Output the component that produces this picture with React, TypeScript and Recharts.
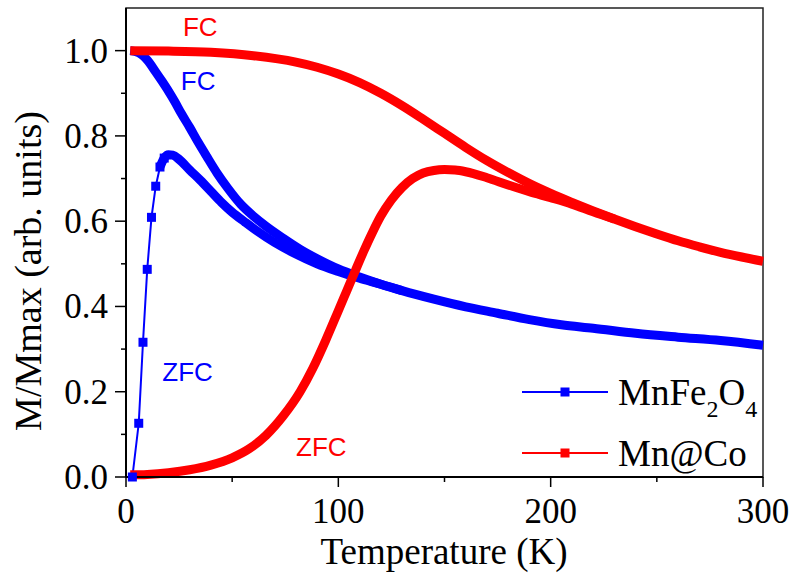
import React from 'react';
import { LineChart, Line, XAxis, YAxis, ReferenceDot, ReferenceArea } from 'recharts';

const BLUE = '#0000ff';
const RED = '#ff0000';
const SERIF = '"Liberation Serif", "Times New Roman", serif';
const SANS = '"Liberation Sans", Arial, sans-serif';

/* ─── data: [temperature (K), M/Mmax] ─────────────────────────────────────── */
const mnFeFc: [number, number][] = [
    [2, 1.0], [6, 0.995], [10, 0.978], [14, 0.95], [17, 0.928], [20, 0.905], [23, 0.88],
    [26, 0.853], [30, 0.82], [34, 0.785], [38, 0.752], [43, 0.712], [48, 0.677], [54, 0.64],
    [60, 0.612], [66, 0.588], [74, 0.56], [82, 0.534], [90, 0.512], [100, 0.488], [110, 0.469],
    [120, 0.452], [130, 0.437], [145, 0.417], [160, 0.399], [175, 0.384], [190, 0.369],
    [205, 0.357], [220, 0.349], [240, 0.337], [260, 0.328], [280, 0.32], [300, 0.309],
];

const mnFeZfc: [number, number][] = [
    [3, 0.0], [6, 0.126], [8, 0.316], [10, 0.487], [12, 0.609], [14, 0.682], [16, 0.727],
    [18, 0.748], [20, 0.756], [22, 0.755], [25, 0.745], [30, 0.72], [35, 0.696], [40, 0.67],
    [45, 0.644], [50, 0.621], [56, 0.598], [62, 0.576], [70, 0.55], [80, 0.523], [90, 0.5],
    [100, 0.482], [110, 0.466], [120, 0.452], [130, 0.437],
];

const mnCoFc: [number, number][] = [
    [2, 1.0], [20, 0.999], [40, 0.996], [60, 0.988], [80, 0.973], [90, 0.961], [100, 0.945],
    [110, 0.925], [120, 0.9], [130, 0.871], [140, 0.839], [150, 0.806], [160, 0.773],
    [170, 0.742], [180, 0.714], [190, 0.688], [200, 0.665], [210, 0.644], [220, 0.624],
    [230, 0.605], [240, 0.587], [250, 0.57], [260, 0.554], [270, 0.54], [280, 0.527],
    [290, 0.516], [300, 0.506],
];

const mnCoZfc: [number, number][] = [
    [2, 0.005], [10, 0.006], [20, 0.01], [30, 0.017], [40, 0.028], [50, 0.045], [58, 0.066],
    [66, 0.098], [74, 0.143], [82, 0.2], [88, 0.255], [94, 0.32], [100, 0.39], [104, 0.437],
    [108, 0.484], [112, 0.53], [116, 0.573], [120, 0.612], [125, 0.65], [130, 0.679],
    [135, 0.7], [140, 0.713], [145, 0.719], [150, 0.721], [155, 0.72], [160, 0.716],
    [170, 0.702], [180, 0.685], [190, 0.669], [200, 0.655], [210, 0.64], [220, 0.622],
    [230, 0.605],
];

const X_TICKS = [0, 50, 100, 150, 200, 250, 300];
const X_LABELS = [0, 100, 200, 300];
const Y_TICKS = [0, 0.1, 0.2, 0.3, 0.4, 0.5, 0.6, 0.7, 0.8, 0.9, 1.0];
const Y_LABELS = [0, 0.2, 0.4, 0.6, 0.8, 1.0];

const SERIES_NAMES = ['MnFe2O4', 'Mn@Co'];

const toRows = (pts: [number, number][]) => pts.map(([t, m]) => ({ t, m }));

const isMajor = (list: number[], v: number) => list.some((l) => Math.abs(l - v) < 1e-6);

/* ─── custom ticks (outward, minor ticks unlabeled) ───────────────────────── */
function XTick(props: any) {
    const { x, y, payload } = props;
    const major = isMajor(X_LABELS, payload.value);
    return (
        <g>
            <line x1={x} y1={y} x2={x} y2={y + (major ? 10 : 5)} stroke="#000" strokeWidth={1.5} />
            {major && (
                <text x={x} y={y + 46} textAnchor="middle" fontSize={35} fontFamily={SERIF} fill="#000">
                    {payload.value}
                </text>
            )}
        </g>
    );
}

function YTick(props: any) {
    const { x, y, payload } = props;
    const major = isMajor(Y_LABELS, payload.value);
    return (
        <g>
            <line x1={x} y1={y} x2={x - (major ? 11 : 5)} y2={y} stroke="#000" strokeWidth={1.5} />
            {major && (
                <text x={x - 18} y={y + 12} textAnchor="end" fontSize={35} fontFamily={SERIF} fill="#000">
                    {payload.value.toFixed(1)}
                </text>
            )}
        </g>
    );
}

const squareDot = (color: string) => (props: any) => {
    const { cx, cy, index } = props;
    return <rect key={`sq-${index}`} x={cx - 4.5} y={cy - 4.5} width={9} height={9} fill={color} />;
};

function LegendOverlay() {
    const rows = [
        { name: SERIES_NAMES[0], color: BLUE, y: 392 },
        { name: SERIES_NAMES[1], color: RED, y: 453 },
    ];
    return (
        <svg width={791} height={578} style={{ position: 'absolute', left: 0, top: 0, pointerEvents: 'none' }}>
            {rows.map((r, i) => (
                <g key={r.name}>
                    <line x1={522} y1={r.y} x2={608} y2={r.y} stroke={r.color} strokeWidth={2} />
                    <rect x={560.5} y={r.y - 4.5} width={9} height={9} fill={r.color} />
                    <text x={618} y={r.y + 13} fontSize={37} fontFamily={SERIF} fill="#000">
                        {i === 0 ? (
                            <>
                                MnFe
                                <tspan fontSize={24} dy={12}>2</tspan>
                                <tspan dy={-12}>O</tspan>
                                <tspan fontSize={24} dy={12}>4</tspan>
                            </>
                        ) : (
                            r.name
                        )}
                    </text>
                </g>
            ))}
        </svg>
    );
}

const note = (value: string, color: string) => ({
    value,
    position: 'center' as const,
    fill: color,
    fontSize: 26,
    fontFamily: SANS,
});

export default function App() {
    const zfcBlue = toRows(mnFeZfc);
    return (
        <div style={{ position: 'relative', width: 791, height: 578, background: '#fff' }}>
            <style>{`body{margin:0}`}</style>
            <LineChart width={791} height={578} margin={{ top: 8, right: 28, bottom: 0, left: 0 }}>
                <XAxis
                    type="number"
                    dataKey="t"
                    domain={[0, 300]}
                    ticks={X_TICKS}
                    interval={0}
                    height={101}
                    tickSize={0}
                    tickMargin={0}
                    tickLine={false}
                    axisLine={{ stroke: '#000', strokeWidth: 2 }}
                    tick={<XTick />}
                    label={() => (
                        <text x={444} y={564} textAnchor="middle" fontSize={37} fontFamily={SERIF} fill="#000">
                            Temperature (K)
                        </text>
                    )}
                />
                <YAxis
                    type="number"
                    domain={[0, 1.1]}
                    ticks={Y_TICKS}
                    interval={0}
                    width={126}
                    tickSize={0}
                    tickMargin={0}
                    tickLine={false}
                    axisLine={{ stroke: '#000', strokeWidth: 2 }}
                    tick={<YTick />}
                    label={() => (
                        <text
                            x={41}
                            y={271}
                            transform="rotate(-90, 41, 271)"
                            textAnchor="middle"
                            fontSize={38}
                            fontFamily={SERIF}
                            fill="#000"
                        >
                            M/Mmax (arb. units)
                        </text>
                    )}
                />
                <ReferenceArea x1={0} x2={300} y1={0} y2={1.1} fill="none" stroke="#222" strokeWidth={1.5} />

                {/* MnFe2O4 */}
                <Line data={toRows(mnFeFc)} dataKey="m" type="monotone" stroke={BLUE} strokeWidth={9} dot={false} isAnimationActive={false} />
                <Line data={zfcBlue.filter((p) => p.t >= 16)} dataKey="m" type="monotone" stroke={BLUE} strokeWidth={9} dot={false} isAnimationActive={false} />
                <Line
                    data={zfcBlue.filter((p) => p.t <= 18)}
                    dataKey="m"
                    type="linear"
                    stroke={BLUE}
                    strokeWidth={2}
                    dot={squareDot(BLUE)}
                    isAnimationActive={false}
                />

                {/* Mn@Co */}
                <Line data={toRows(mnCoFc)} dataKey="m" type="monotone" stroke={RED} strokeWidth={9} dot={false} isAnimationActive={false} />
                <Line data={toRows(mnCoZfc)} dataKey="m" type="monotone" stroke={RED} strokeWidth={9} dot={false} isAnimationActive={false} />

                <ReferenceDot x={35} y={1.055} r={0} fill="none" stroke="none" label={note('FC', RED)} />
                <ReferenceDot x={34} y={0.93} r={0} fill="none" stroke="none" label={note('FC', BLUE)} />
                <ReferenceDot x={29} y={0.246} r={0} fill="none" stroke="none" label={note('ZFC', BLUE)} />
                <ReferenceDot x={92} y={0.07} r={0} fill="none" stroke="none" label={note('ZFC', RED)} />
            </LineChart>
            <LegendOverlay />
        </div>
    );
}
